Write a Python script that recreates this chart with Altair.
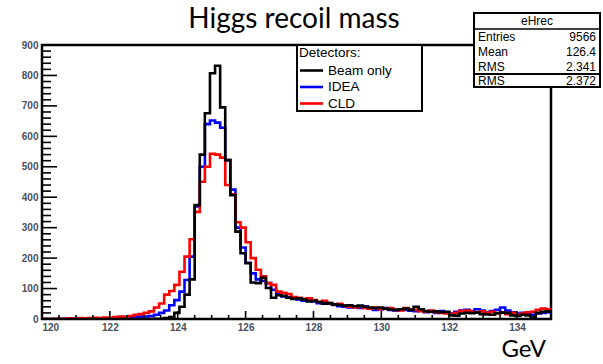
import altair as alt
import pandas as pd

# Histogram binning: 100 bins of 0.15 GeV between 120 and 135 GeV
BIN_LO = 120.0
BIN_W = 0.15

beam_only = [
    0, 0, 0, 0, 0, 0, 0, 0, 0, 0,
    0, 0, 0, 0, 0, 0, 0, 0, 0, 0,
    0, 0, 1, 1, 3, 6, 20, 40, 80, 130,
    374, 540, 676, 807, 832, 695, 522, 407, 287, 216,
    183, 120, 118, 135, 102, 70, 78, 76, 70, 66,
    68, 64, 58, 60, 56, 50, 52, 48, 46, 44,
    45, 42, 44, 40, 38, 36, 38, 34, 31, 30,
    32, 34, 30, 40, 32, 26, 24, 25, 22, 24,
    12, 11, 18, 20, 19, 21, 16, 15, 14, 19,
    21, 20, 12, 10, 14, 12, 5, 20, 24, 25,
]

idea = [
    0, 0, 0, 0, 0, 0, 1, 0, 1, 0,
    1, 2, 1, 2, 3, 2, 4, 5, 6, 8,
    8, 10, 14, 20, 28, 45, 62, 90, 128, 205,
    370, 500, 640, 652, 645, 628, 522, 425, 300, 235,
    185, 150, 130, 125, 118, 96, 84, 74, 72, 70,
    64, 60, 62, 58, 52, 54, 50, 46, 42, 40,
    38, 41, 36, 42, 34, 30, 32, 36, 30, 28,
    32, 30, 27, 26, 28, 22, 24, 20, 26, 22,
    18, 24, 28, 30, 26, 32, 28, 22, 26, 30,
    38, 28, 22, 18, 20, 16, 14, 18, 20, 22,
]

cld = [
    0, 0, 0, 1, 0, 2, 1, 3, 2, 3,
    4, 3, 5, 4, 6, 8, 7, 10, 14, 16,
    20, 25, 38, 51, 80, 92, 112, 155, 205, 262,
    352, 451, 500, 543, 540, 530, 440, 410, 318, 300,
    252, 200, 162, 140, 118, 112, 90, 86, 82, 72,
    70, 66, 68, 62, 56, 60, 52, 48, 50, 44,
    40, 38, 42, 36, 34, 38, 32, 34, 36, 30,
    28, 36, 32, 30, 26, 24, 28, 22, 20, 18,
    16, 20, 26, 28, 24, 22, 25, 20, 24, 18,
    22, 16, 20, 14, 18, 22, 24, 30, 34, 32,
]

detectors = ["Beam only", "IDEA", "CLD"]
colors = ["#000000", "#0000ff", "#ff0000"]
series = {"Beam only": beam_only, "IDEA": idea, "CLD": cld}

x_major = [120, 122, 124, 126, 128, 130, 132, 134]
y_major = [0, 100, 200, 300, 400, 500, 600, 700, 800, 900]

stat_labels = ["Entries", "Mean", "RMS", "RMS"]
stat_values = ["9566", "126.4", "2.341", "2.372"]

W, H = 509, 274
FONT = "Liberation Sans"
LABEL_COLOR = "#46505e"


def step_frame(name):
    vals = series[name]
    edges = [BIN_LO + BIN_W * i for i in range(len(vals))]
    # repeat the last content at the upper edge so the final step is drawn
    edges.append(BIN_LO + BIN_W * len(vals))
    vals = list(vals) + [vals[-1]]
    return pd.DataFrame({"mass": edges, "count": vals, "detector": name})


x_scale = alt.Scale(domain=[120, 135], nice=False, zero=False)
y_scale = alt.Scale(domain=[0, 900], nice=False)
color_scale = alt.Scale(domain=detectors, range=colors)

x_axis = alt.Axis(values=x_major, format="d", title=None, ticks=False, domain=False,
                  grid=False, labelFont=FONT, labelFontSize=10, labelFontWeight="bold",
                  labelColor=LABEL_COLOR, labelPadding=3)
y_axis = alt.Axis(values=y_major, format="d", title=None, ticks=False, domain=False,
                  grid=False, labelFont=FONT, labelFontSize=10, labelFontWeight="bold",
                  labelColor=LABEL_COLOR, labelPadding=4)


def X(field):
    return alt.X(field, scale=x_scale, axis=x_axis)


def Y(field):
    return alt.Y(field, scale=y_scale, axis=y_axis)


def hist_layer(name):
    return alt.Chart(step_frame(name)).mark_line(
        interpolate="step-after", strokeWidth=2.6, clip=True
    ).encode(
        x=X("mass:Q"),
        y=Y("count:Q"),
        color=alt.Color("detector:N", scale=color_scale, legend=None),
    )


# Inward-pointing tick marks, ROOT style
x_minor = [120 + 0.5 * i for i in range(1, 30) if (0.5 * i) % 2 != 0]
x_ticks_major = alt.Chart(pd.DataFrame({"t": x_major[1:]})).mark_rule(
    color="black", strokeWidth=1.6).encode(
    x=X("t:Q"), y=alt.value(H), y2=alt.value(H - 8))
x_ticks_minor = alt.Chart(pd.DataFrame({"t": x_minor})).mark_rule(
    color="black", strokeWidth=1.6).encode(
    x=X("t:Q"), y=alt.value(H), y2=alt.value(H - 4))

y_minor = [v for v in range(20, 900, 20) if v % 100 != 0]
y_ticks_major = alt.Chart(pd.DataFrame({"t": y_major})).mark_rule(
    color="black", strokeWidth=1.6).encode(
    y=Y("t:Q"), x=alt.value(0), x2=alt.value(15))
y_ticks_minor = alt.Chart(pd.DataFrame({"t": y_minor})).mark_rule(
    color="black", strokeWidth=1.6).encode(
    y=Y("t:Q"), x=alt.value(0), x2=alt.value(9))

one = pd.DataFrame({"k": [0]})

# Legend box
LX0, LX1, LY0, LY1 = 255, 380, 0, 66
legend_box = alt.Chart(one).mark_rect(
    fill="white", stroke="black", strokeWidth=2).encode(
    x=alt.value(LX0), x2=alt.value(LX1), y=alt.value(LY0), y2=alt.value(LY1))
legend_title = alt.Chart(one).mark_text(
    text="Detectors:", align="left", baseline="middle", font=FONT, fontSize=13.5,
    color="black").encode(x=alt.value(LX0 + 2), y=alt.value(8))
legend_layers = [legend_box, legend_title]
for i, name in enumerate(detectors):
    yy = 25.5 + 16.5 * i
    row = pd.DataFrame({"detector": [name]})
    legend_layers.append(
        alt.Chart(row).mark_rule(strokeWidth=2.6).encode(
            x=alt.value(LX0 + 3), x2=alt.value(LX0 + 26), y=alt.value(yy),
            color=alt.Color("detector:N", scale=color_scale, legend=None)))
    legend_layers.append(
        alt.Chart(row).mark_text(align="left", baseline="middle", font=FONT,
                                 fontSize=13.5, color="black").encode(
            x=alt.value(LX0 + 31), y=alt.value(yy), text="detector:N"))

# Statistics box
SX0, SX1 = 432, 558
stats_layers = [
    alt.Chart(one).mark_rect(fill="white", stroke="black", strokeWidth=2).encode(
        x=alt.value(SX0), x2=alt.value(SX1), y=alt.value(-32), y2=alt.value(42)),
    alt.Chart(one).mark_rule(color="black", strokeWidth=1.5).encode(
        x=alt.value(SX0), x2=alt.value(SX1), y=alt.value(-16)),
    alt.Chart(one).mark_rule(color="black", strokeWidth=2).encode(
        x=alt.value(SX0), x2=alt.value(SX1), y=alt.value(29)),
    alt.Chart(one).mark_text(text="eHrec", align="center", baseline="middle",
                             font=FONT, fontSize=12, color="black").encode(
        x=alt.value((SX0 + SX1) / 2), y=alt.value(-24)),
]
for i, (lab, val) in enumerate(zip(stat_labels, stat_values)):
    yy = -8 + 15 * i if i < 3 else 36
    stats_layers.append(alt.Chart(one).mark_text(
        text=lab, align="left", baseline="middle", font=FONT, fontSize=12,
        color="black").encode(x=alt.value(SX0 + 4), y=alt.value(yy)))
    stats_layers.append(alt.Chart(one).mark_text(
        text=val, align="right", baseline="middle", font=FONT, fontSize=12,
        color="black").encode(x=alt.value(SX1 - 4), y=alt.value(yy)))

title = alt.Chart(one).mark_text(
    text="Higgs recoil mass", align="center", baseline="alphabetic", font="Lato",
    fontSize=28, color="black").encode(x=alt.value(252), y=alt.value(-17))
unit = alt.Chart(one).mark_text(
    text="GeV", align="right", baseline="alphabetic", font="Lato",
    fontSize=24, color="black").encode(x=alt.value(504), y=alt.value(312))

chart = alt.layer(
    hist_layer("IDEA"),
    hist_layer("CLD"),
    hist_layer("Beam only"),
    x_ticks_major, x_ticks_minor, y_ticks_major, y_ticks_minor,
    *legend_layers,
    *stats_layers,
    title, unit,
).properties(
    width=W, height=H,
    autosize=alt.AutoSizeParams(type="none"),
    padding={"left": 42, "top": 45, "right": 52, "bottom": 45},
    background="white",
).configure_view(
    stroke="black", strokeWidth=2.5
)

chart.save("out.html", embed_options={"renderer": "svg", "actions": False})
